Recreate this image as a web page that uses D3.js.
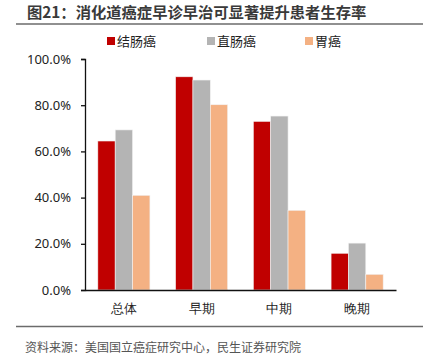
<!DOCTYPE html>
<html>
<head>
<meta charset="utf-8">
<script src="https://cdn.jsdelivr.net/npm/d3@7"></script>
<style>
  body { margin: 0; background: #fff; }
  svg { font-family: "Noto Sans CJK SC", "Noto Sans", sans-serif; }
</style>
</head>
<body>
<svg width="431" height="360"></svg>
<script>
// data
var categories = ["总体", "早期", "中期", "晚期"];
var seriesNames = ["结肠癌", "直肠癌", "胃癌"];
var colon = [64.5, 92.3, 73.0, 15.9];
var rectum = [69.3, 90.9, 75.3, 20.3];
var stomach = [41.0, 80.2, 34.5, 6.8];
var yTicks = [0, 20, 40, 60, 80, 100];
var colors = ["#C00000", "#B4B4B4", "#F4B183"];

var series = [colon, rectum, stomach];

var svg = d3.select("svg");

var margin = {left: 85, right: 35, top: 59, bottom: 70};
var width = 431 - margin.left - margin.right,
    height = 360 - margin.top - margin.bottom;

// title
svg.append("text")
    .attr("x", 27).attr("y", 18)
    .attr("font-size", 15.3).attr("font-weight", "bold")
    .attr("fill", "#3a3a3a")
    .text("图21：消化道癌症早诊早治可显著提升患者生存率");

svg.append("line")
    .attr("x1", 16).attr("x2", 423)
    .attr("y1", 24).attr("y2", 24)
    .attr("stroke", "#6b6b6b").attr("stroke-width", 1.5);

// legend
var legX = [107, 207, 305];
var leg = svg.selectAll(".leg")
    .data(seriesNames)
    .join("g")
    .attr("class", "leg")
    .attr("transform", (d, i) => "translate(" + legX[i] + ",41)");
leg.append("rect")
    .attr("x", 0).attr("y", -4)
    .attr("width", 8).attr("height", 8)
    .attr("fill", (d, i) => colors[i]);
leg.append("text")
    .attr("x", 10).attr("y", 0)
    .attr("dy", "0.35em")
    .attr("font-size", 13)
    .attr("fill", "#222")
    .text(d => d);

var g = svg.append("g")
    .attr("transform", "translate(" + margin.left + "," + margin.top + ")");

var x = d3.scaleBand()
    .domain(categories)
    .range([0, width])
    .paddingInner(0.33)
    .paddingOuter(0.165);

var x1 = d3.scaleBand()
    .domain(d3.range(series.length))
    .range([0, x.bandwidth()]);

var y = d3.scaleLinear()
    .domain([0, 100])
    .range([height, 0]);

// bars
g.selectAll(".grp")
    .data(categories)
    .join("g")
    .attr("class", "grp")
    .attr("transform", d => "translate(" + x(d) + ",0)")
    .selectAll("rect")
    .data((d, ci) => series.map((s, si) => ({si: si, v: s[ci]})))
    .join("rect")
    .attr("x", d => x1(d.si))
    .attr("y", d => y(d.v))
    .attr("width", x1.bandwidth())
    .attr("height", d => height - y(d.v))
    .attr("fill", d => colors[d.si])
    .attr("stroke", "#f2f2f2")
    .attr("stroke-width", 0.6);

// y axis
var yAxis = g.append("g")
    .call(d3.axisLeft(y)
        .tickValues(yTicks)
        .tickSize(4)
        .tickFormat(d => d.toFixed(1) + "%"));
yAxis.select(".domain").attr("stroke", "#111").attr("stroke-width", 1.3);
yAxis.selectAll(".tick line").attr("stroke", "#111").attr("stroke-width", 1.3);
yAxis.selectAll(".tick text")
    .attr("x", -14)
    .attr("font-size", 13)
    .attr("font-family", "Noto Sans, sans-serif")
    .attr("fill", "#222");

// x axis
var xAxis = g.append("g")
    .attr("transform", "translate(0," + height + ")")
    .call(d3.axisBottom(x).tickSize(0).tickPadding(14));
xAxis.select(".domain").attr("stroke", "#111").attr("stroke-width", 1.5);
xAxis.selectAll(".tick text")
    .attr("font-size", 13)
    .attr("fill", "#222");

// footer
svg.append("line")
    .attr("x1", 16).attr("x2", 423)
    .attr("y1", 326.5).attr("y2", 326.5)
    .attr("stroke", "#6b6b6b").attr("stroke-width", 1.5);

svg.append("text")
    .attr("x", 25).attr("y", 348)
    .attr("dy", "0.35em")
    .attr("font-size", 12)
    .attr("fill", "#555")
    .text("资料来源：美国国立癌症研究中心，民生证券研究院");
</script>
</body>
</html>
